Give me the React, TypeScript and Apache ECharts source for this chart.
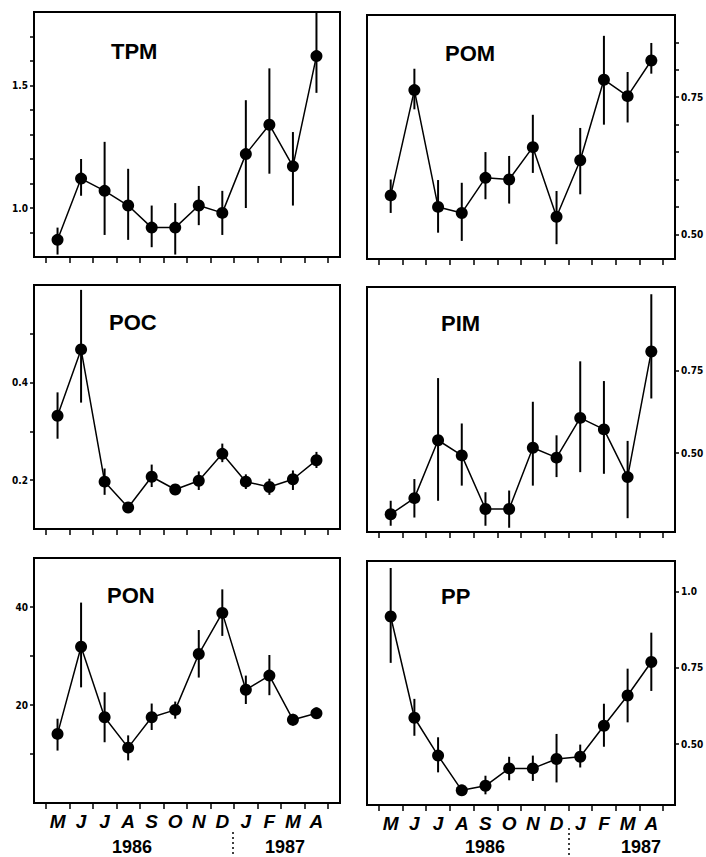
import React, { useEffect, useRef } from "react";
import * as echarts from "echarts";

// ---- categories ----
const months = ["M", "J", "J", "A", "S", "O", "N", "D", "J", "F", "M", "A"];
const years = ["1986", "1987"];

// ---- TPM ----
const tpmMean = [0.87, 1.12, 1.07, 1.01, 0.92, 0.92, 1.01, 0.98, 1.22, 1.34, 1.17, 1.62];
const tpmLow = [0.81, 1.05, 0.89, 0.87, 0.84, 0.81, 0.93, 0.89, 1.0, 1.14, 1.01, 1.47];
const tpmHigh = [0.92, 1.2, 1.27, 1.16, 1.01, 1.02, 1.09, 1.07, 1.44, 1.57, 1.31, 1.8];
const tpmTicks = [0.9, 1.0, 1.1, 1.2, 1.3, 1.4, 1.5, 1.6, 1.7];
const tpmLabels = [1.0, 1.5];

// ---- POM ----
const pomMean = [0.571, 0.763, 0.55, 0.539, 0.603, 0.6, 0.659, 0.532, 0.635, 0.782, 0.752, 0.817];
const pomLow = [0.539, 0.728, 0.503, 0.488, 0.564, 0.556, 0.612, 0.482, 0.573, 0.7, 0.704, 0.793];
const pomHigh = [0.6, 0.802, 0.599, 0.594, 0.65, 0.643, 0.718, 0.579, 0.694, 0.862, 0.796, 0.849];
const pomTicks = [0.5, 0.55, 0.6, 0.65, 0.7, 0.75, 0.8, 0.85];
const pomLabels = [0.5, 0.75];

// ---- POC ----
const pocMean = [0.332, 0.468, 0.197, 0.144, 0.207, 0.181, 0.199, 0.254, 0.197, 0.186, 0.202, 0.241];
const pocLow = [0.285, 0.359, 0.17, 0.144, 0.186, 0.176, 0.18, 0.237, 0.182, 0.17, 0.18, 0.225];
const pocHigh = [0.38, 0.59, 0.224, 0.144, 0.232, 0.186, 0.218, 0.275, 0.212, 0.203, 0.22, 0.258];
const pocTicks = [0.2, 0.3, 0.4, 0.5];
const pocLabels = [0.2, 0.4];

// ---- PIM ----
const pimMean = [0.314, 0.363, 0.539, 0.493, 0.33, 0.33, 0.516, 0.486, 0.607, 0.572, 0.427, 0.809];
const pimLow = [0.279, 0.304, 0.355, 0.401, 0.279, 0.273, 0.401, 0.427, 0.442, 0.437, 0.302, 0.666];
const pimHigh = [0.355, 0.421, 0.728, 0.59, 0.381, 0.386, 0.656, 0.554, 0.779, 0.719, 0.537, 0.983];
const pimTicks = [0.5, 0.75];
const pimLabels = [0.5, 0.75];

// ---- PON ----
const ponMean = [14.1, 31.9, 17.5, 11.3, 17.5, 19.0, 30.4, 38.8, 23.1, 26.0, 17.0, 18.3];
const ponLow = [10.7, 23.6, 12.4, 8.7, 14.9, 17.2, 25.6, 34.1, 20.2, 22.0, 15.8, 17.2];
const ponHigh = [17.2, 40.9, 22.6, 13.8, 20.3, 20.7, 35.3, 43.6, 26.0, 30.2, 18.2, 19.5];
const ponTicks = [10, 20, 30, 40];
const ponLabels = [20, 40];

// ---- PP ----
const ppMean = [0.918, 0.586, 0.462, 0.348, 0.363, 0.42, 0.42, 0.451, 0.458, 0.56, 0.659, 0.769];
const ppLow = [0.766, 0.527, 0.407, 0.348, 0.335, 0.381, 0.379, 0.374, 0.423, 0.491, 0.571, 0.674];
const ppHigh = [1.077, 0.648, 0.522, 0.348, 0.396, 0.458, 0.462, 0.533, 0.498, 0.632, 0.747, 0.865];
const ppTicks = [0.5, 0.75, 1.0];
const ppLabels = [0.5, 0.75, 1.0];

const LABEL_FONT = "'Liberation Sans Narrow', 'DejaVu Sans Condensed', 'Liberation Sans', sans-serif";
const TITLE_FONT = "'Liberation Sans', Arial, sans-serif";

type Panel = {
  name: string;
  mean: number[];
  low: number[];
  high: number[];
  min: number;
  max: number;
  ticks: number[];
  labels: number[];
  dec: number;
  side: "left" | "right";
  box: { left: number; top: number; width: number; height: number };
  title: { x: number; y: number };
  showX: boolean;
};

const panels: Panel[] = [
  { name: "TPM", mean: tpmMean, low: tpmLow, high: tpmHigh, min: 0.8, max: 1.8, ticks: tpmTicks, labels: tpmLabels, dec: 1, side: "left",
    box: { left: 34, top: 12, width: 306, height: 245 }, title: { x: 111, y: 51 }, showX: false },
  { name: "POM", mean: pomMean, low: pomLow, high: pomHigh, min: 0.455, max: 0.9, ticks: pomTicks, labels: pomLabels, dec: 2, side: "right",
    box: { left: 367, top: 15, width: 308, height: 244 }, title: { x: 445, y: 53 }, showX: false },
  { name: "POC", mean: pocMean, low: pocLow, high: pocHigh, min: 0.1, max: 0.6, ticks: pocTicks, labels: pocLabels, dec: 1, side: "left",
    box: { left: 34, top: 285, width: 306, height: 244 }, title: { x: 109, y: 322 }, showX: false },
  { name: "PIM", mean: pimMean, low: pimLow, high: pimHigh, min: 0.26, max: 1.005, ticks: pimTicks, labels: pimLabels, dec: 2, side: "right",
    box: { left: 367, top: 287, width: 308, height: 245 }, title: { x: 441, y: 323 }, showX: false },
  { name: "PON", mean: ponMean, low: ponLow, high: ponHigh, min: 0, max: 50, ticks: ponTicks, labels: ponLabels, dec: 0, side: "left",
    box: { left: 34, top: 558, width: 306, height: 245 }, title: { x: 107, y: 595 }, showX: true },
  { name: "PP", mean: ppMean, low: ppLow, high: ppHigh, min: 0.3, max: 1.1, ticks: ppTicks, labels: ppLabels, dec: 2, side: "right",
    box: { left: 367, top: 561, width: 308, height: 244 }, title: { x: 441, y: 596 }, showX: true },
];

const monthIdx = months.map((_, i) => i);
const monthBounds = months.map((_, i) => i - 0.5).concat([months.length - 0.5]);

function fmtY(v: number, dec: number) {
  if (dec === 2 && Math.abs(v - 1) < 1e-9) return "1.0";
  return v.toFixed(dec);
}

export default function App() {
  const ref = useRef<HTMLDivElement>(null);
  useEffect(() => {
    if (!ref.current) return;
    const chart = echarts.init(ref.current, undefined, { renderer: "svg" });

    const grid = panels.map((p) => ({
      left: p.box.left,
      top: p.box.top,
      width: p.box.width,
      height: p.box.height,
      show: true,
      borderColor: "#000",
      borderWidth: 2,
      backgroundColor: "transparent",
      containLabel: false,
      outerBoundsMode: "none",
    }));

    const xAxis = panels.map((p, i) => ({
      type: "value",
      gridIndex: i,
      position: "bottom",
      min: -1,
      max: 12,
      axisLine: { show: false, onZero: false },
      splitLine: { show: false },
      axisTick: { show: true, customValues: monthBounds, length: 6, lineStyle: { color: "#000", width: 1.5 } },
      axisLabel: {
        show: p.showX,
        customValues: monthIdx,
        formatter: (v: number) => months[Math.round(v)] ?? "",
        fontSize: 19,
        fontWeight: "bold",
        fontStyle: "italic",
        fontFamily: TITLE_FONT,
        color: "#000",
        margin: 9,
      },
    }));

    const yAxis = panels.map((p, i) => ({
      type: "value",
      gridIndex: i,
      position: p.side,
      min: p.min,
      max: p.max,
      axisLine: { show: false, onZero: false },
      splitLine: { show: false },
      axisTick: { show: true, customValues: p.ticks, length: 4, lineStyle: { color: "#000", width: 1.5 } },
      axisLabel: {
        customValues: p.labels,
        formatter: (v: number) => fmtY(v, p.dec),
        fontSize: 10,
        fontWeight: "bold",
        fontFamily: LABEL_FONT,
        color: "#000",
        margin: 6,
      },
    }));

    const series: any[] = [];
    panels.forEach((p, i) => {
      series.push({
        type: "custom",
        xAxisIndex: i,
        yAxisIndex: i,
        z: 2,
        encode: { x: 0, y: [1, 2] },
        data: p.low.map((lo, k) => [k, lo, p.high[k]]),
        renderItem: (params: any, api: any) => {
          const x = api.value(0);
          const a = api.coord([x, api.value(1)]);
          const b = api.coord([x, api.value(2)]);
          return {
            type: "line",
            shape: { x1: a[0], y1: a[1], x2: b[0], y2: b[1] },
            style: { stroke: "#000", lineWidth: 2 },
          };
        },
      });
      series.push({
        type: "line",
        name: p.name,
        xAxisIndex: i,
        yAxisIndex: i,
        z: 3,
        data: p.mean.map((v, k) => [k, v]),
        symbol: "circle",
        symbolSize: 12,
        showSymbol: true,
        lineStyle: { color: "#000", width: 1.5 },
        itemStyle: { color: "#000" },
      });
    });

    const graphic: any[] = [];
    panels.forEach((p) => {
      graphic.push({
        type: "text",
        x: p.title.x,
        y: p.title.y,
        style: {
          text: p.name,
          fontSize: 22,
          fontWeight: "bold",
          fontFamily: TITLE_FONT,
          fill: "#000",
          verticalAlign: "middle",
          align: "left",
        },
      });
    });
    const yearPos = [
      { x: 132, text: years[0] },
      { x: 285, text: years[1] },
      { x: 485, text: years[0] },
      { x: 641, text: years[1] },
    ];
    yearPos.forEach((y) => {
      graphic.push({
        type: "text",
        x: y.x,
        y: 856,
        style: {
          text: y.text,
          fontSize: 18,
          fontWeight: "bold",
          fontFamily: TITLE_FONT,
          fill: "#000",
          align: "center",
          verticalAlign: "bottom",
        },
      });
    });
    [ { x: 233, y1: 832 }, { x: 569, y1: 828 } ].forEach((s) => {
      graphic.push({
        type: "line",
        shape: { x1: s.x, y1: s.y1, x2: s.x, y2: 857 },
        style: { stroke: "#000", lineWidth: 1.5, lineDash: [2, 3] },
      });
    });

    chart.setOption({
      animation: false,
      backgroundColor: "#fff",
      grid,
      xAxis,
      yAxis,
      series,
      graphic,
    } as any);

    return () => chart.dispose();
  }, []);

  return (
    <div
      ref={ref}
      style={{ position: "fixed", left: 0, top: 0, width: 706, height: 857, background: "#fff" }}
    />
  );
}
